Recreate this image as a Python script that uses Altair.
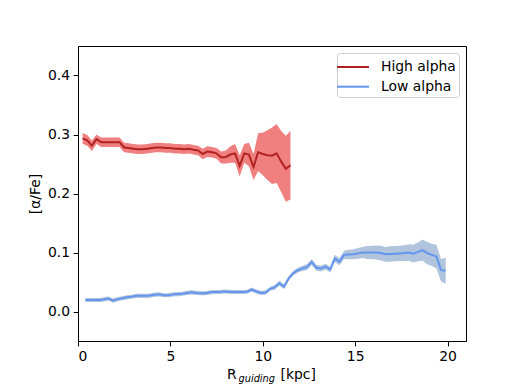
import altair as alt
import pandas as pd

series_names = ["High alpha", "Low alpha"]
line_colors = ["#b22222", "#6495ed"]
band_colors = ["#f08080", "#b0c4de"]
x_ticks = [0, 5, 10, 15, 20]
y_ticks = [0.0, 0.1, 0.2, 0.3, 0.4]

high_x = [0.25, 0.5, 0.75, 1.0, 1.25, 1.5, 1.75, 2.0, 2.25, 2.5, 2.75, 3.0, 3.25, 3.5,
          3.75, 4.0, 4.25, 4.5, 4.75, 5.0, 5.25, 5.5, 5.75, 6.0, 6.25, 6.5, 6.75, 7.0,
          7.25, 7.5, 7.75, 8.0, 8.25, 8.5, 8.75, 9.0, 9.25, 9.5, 9.75, 10.0, 10.25,
          10.5, 10.75, 11.0, 11.25, 11.5]
high_mean = [0.2935, 0.290, 0.281, 0.292, 0.287, 0.287, 0.287, 0.287, 0.287, 0.278,
             0.277, 0.276, 0.275, 0.275, 0.276, 0.277, 0.278, 0.278, 0.277, 0.277,
             0.276, 0.276, 0.275, 0.276, 0.274, 0.273, 0.267, 0.271, 0.270, 0.268,
             0.261, 0.262, 0.266, 0.268, 0.247, 0.268, 0.266, 0.245, 0.270, 0.267,
             0.265, 0.264, 0.268, 0.254, 0.242, 0.248]
high_err = [0.009, 0.009, 0.009, 0.008, 0.008, 0.008, 0.008, 0.008, 0.008, 0.008,
            0.008, 0.008, 0.008, 0.008, 0.008, 0.008, 0.008, 0.008, 0.008, 0.008,
            0.008, 0.008, 0.008, 0.008, 0.008, 0.008, 0.009, 0.009, 0.009, 0.009,
            0.010, 0.011, 0.014, 0.016, 0.018, 0.016, 0.020, 0.022, 0.032, 0.036,
            0.042, 0.048, 0.050, 0.052, 0.056, 0.058]

low_x = [0.4, 0.65, 0.9, 1.15, 1.4, 1.65, 1.9, 2.15, 2.4, 2.65, 2.9, 3.15, 3.4, 3.65,
         3.9, 4.15, 4.4, 4.65, 4.9, 5.15, 5.4, 5.65, 5.9, 6.15, 6.4, 6.65, 6.9, 7.15,
         7.4, 7.65, 7.9, 8.15, 8.4, 8.65, 8.9, 9.15, 9.4, 9.65, 9.9, 10.15, 10.4,
         10.65, 10.9, 11.15, 11.4, 11.65, 11.9, 12.15, 12.4, 12.65, 12.9, 13.15, 13.4,
         13.65, 13.9, 14.15, 14.4, 14.65, 14.9, 15.15, 15.4, 15.65, 15.9, 16.15, 16.4,
         16.65, 16.9, 17.15, 17.4, 17.65, 17.9, 18.15, 18.4, 18.65, 18.9, 19.15, 19.4,
         19.65, 19.9]
low_mean = [0.0195, 0.0195, 0.0195, 0.0195, 0.0205, 0.0220, 0.0185, 0.0210, 0.0225,
            0.0240, 0.0250, 0.0265, 0.0265, 0.0265, 0.0270, 0.0285, 0.0290, 0.0275,
            0.0275, 0.0290, 0.0295, 0.0300, 0.0315, 0.0325, 0.0315, 0.0310, 0.0310,
            0.0325, 0.0330, 0.0330, 0.0340, 0.0335, 0.0330, 0.0330, 0.0330, 0.0335,
            0.0370, 0.0340, 0.0315, 0.0320, 0.0385, 0.0410, 0.0480, 0.0420, 0.0560,
            0.0650, 0.0700, 0.0730, 0.0755, 0.0840, 0.0740, 0.0730, 0.0760, 0.0710,
            0.0900, 0.0843, 0.0960, 0.0965, 0.0970, 0.0985, 0.1000, 0.1000, 0.1000,
            0.1000, 0.0990, 0.0970, 0.0975, 0.0980, 0.0985, 0.0990, 0.1000, 0.0980,
            0.1010, 0.1040, 0.0990, 0.0960, 0.0930, 0.0700, 0.0690]
low_err = [0.0035, 0.0035, 0.0035, 0.0035, 0.0035, 0.0035, 0.0035, 0.0035, 0.0035,
           0.0035, 0.0035, 0.0035, 0.0035, 0.0035, 0.0035, 0.0035, 0.0035, 0.0035,
           0.0035, 0.0035, 0.0035, 0.0035, 0.0035, 0.0035, 0.0035, 0.0035, 0.0035,
           0.0035, 0.0035, 0.0035, 0.0035, 0.0035, 0.0035, 0.0035, 0.0035, 0.0035,
           0.0035, 0.0035, 0.0035, 0.0035, 0.0035, 0.0040, 0.0040, 0.0040, 0.0040,
           0.0040, 0.0040, 0.0045, 0.0050, 0.0050, 0.0050, 0.0050, 0.0050, 0.0050,
           0.0060, 0.0060, 0.0070, 0.0080, 0.0085, 0.0090, 0.0095, 0.0110, 0.0115,
           0.0120, 0.0125, 0.0125, 0.0130, 0.0130, 0.0130, 0.0135, 0.0140, 0.0150,
           0.0160, 0.0180, 0.0190, 0.0190, 0.0200, 0.0190, 0.0220]

rows = []
for name, xs_, ms_, es_ in [("High alpha", high_x, high_mean, high_err),
                            ("Low alpha", low_x, low_mean, low_err)]:
    for x, m, e in zip(xs_, ms_, es_):
        rows.append({"x": x, "m": m, "lo": m - e, "hi": m + e,
                     "series": name, "band": name + " band"})
df = pd.DataFrame(rows)

FONT = "DejaVu Sans"
FS = 13.9
LW = 2.0

xscale = alt.Scale(domain=[0, 21], nice=False, zero=False)
yscale = alt.Scale(domain=[-0.05, 0.45], nice=False, zero=False)

xaxis = alt.Axis(values=x_ticks, title=None, grid=False, format="d")
yaxis = alt.Axis(values=y_ticks, title="[α/Fe]", grid=False, format=".1f",
                 titlePadding=5)

base = alt.Chart(df)
band = base.mark_area(opacity=1).encode(
    x=alt.X("x:Q", scale=xscale, axis=xaxis),
    y=alt.Y("lo:Q", scale=yscale, axis=yaxis),
    y2="hi:Q",
    fill=alt.Fill("band:N",
                  scale=alt.Scale(domain=[s + " band" for s in series_names],
                                  range=band_colors),
                  legend=None),
)
line = base.mark_line(strokeWidth=LW).encode(
    x=alt.X("x:Q", scale=xscale),
    y=alt.Y("m:Q", scale=yscale),
    stroke=alt.Stroke("series:N",
                      scale=alt.Scale(domain=series_names, range=line_colors),
                      legend=alt.Legend(title=None, orient="top-right", offset=7,
                                        padding=3, fillColor="white",
                                        strokeColor="#cccccc", cornerRadius=3,
                                        symbolType="M-1.6,0H1.6", symbolSize=400,
                                        symbolOffset=2,
                                        symbolStrokeWidth=LW, labelFont=FONT,
                                        labelFontSize=FS, labelColor="black",
                                        labelOffset=17, rowPadding=1.7,
                                        labelExpr="datum.label + '\u00a0'")),
)

t1 = alt.Chart(pd.DataFrame({"t": ["R"]})).mark_text(
    font=FONT, fontSize=FS, color="black", align="left", baseline="alphabetic"
).encode(x=alt.value(149), y=alt.value(333), text="t:N")
t2 = alt.Chart(pd.DataFrame({"t": ["guiding"]})).mark_text(
    font=FONT, fontSize=9.8, fontStyle="italic", color="black", align="left",
    baseline="alphabetic"
).encode(x=alt.value(160.5), y=alt.value(335.5), text="t:N")
t3 = alt.Chart(pd.DataFrame({"t": ["[kpc]"]})).mark_text(
    font=FONT, fontSize=FS, color="black", align="left", baseline="alphabetic"
).encode(x=alt.value(202.5), y=alt.value(333), text="t:N")

chart = alt.layer(band, line, t1, t2, t3).properties(
    width=388, height=295, autosize="none",
    padding={"left": 70, "top": 38, "right": 44, "bottom": 46},
).configure_view(stroke="black", strokeWidth=1).configure_axis(
    domainColor="black", tickColor="black", labelColor="black", titleColor="black",
    labelFont=FONT, titleFont=FONT, labelFontSize=FS, titleFontSize=FS,
    titleFontWeight="normal", tickSize=4.9, labelPadding=3.5, domainWidth=1,
)

chart.save("out.html", embed_options={"renderer": "svg", "actions": False})
